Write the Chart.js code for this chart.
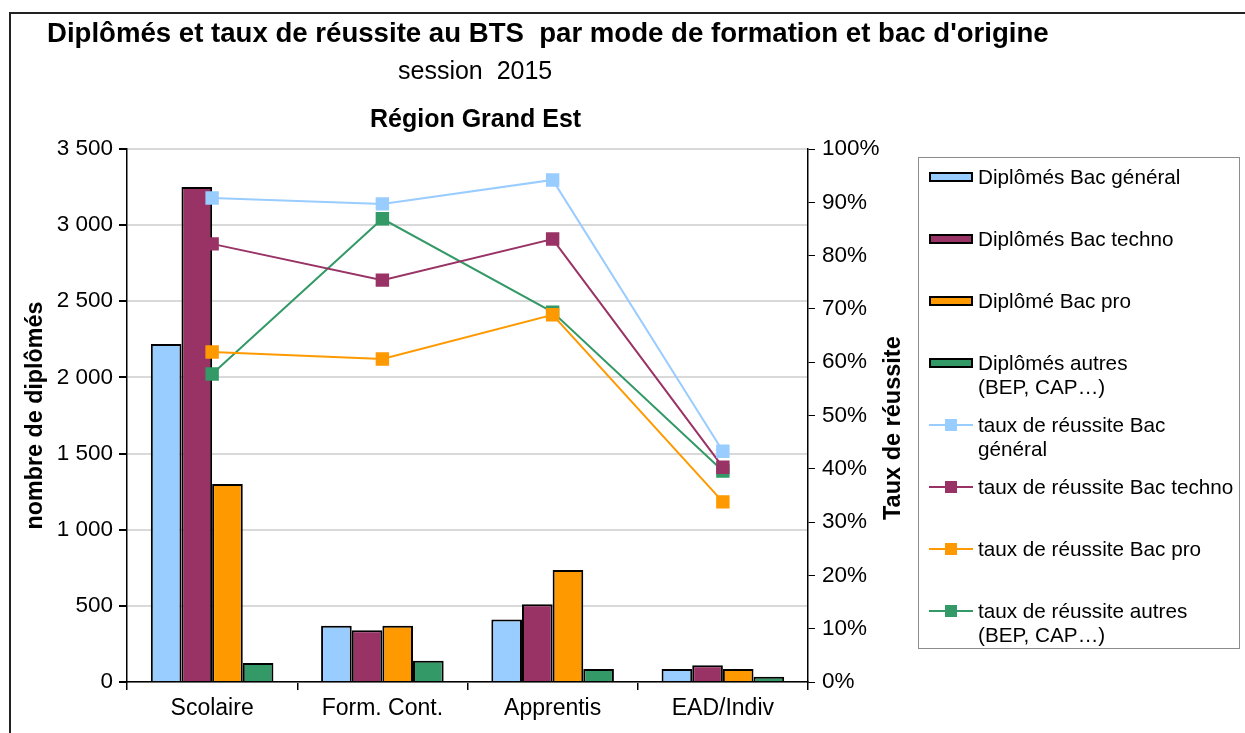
<!DOCTYPE html>
<html lang="fr">
<head>
<meta charset="utf-8">
<title>Diplômés et taux de réussite au BTS</title>
<script src="https://cdn.jsdelivr.net/npm/chart.js@4"></script>
<style>
  html, body { margin: 0; padding: 0; background: #fff; }
  body { width: 1245px; height: 733px; position: relative; overflow: hidden; font-family: "Liberation Sans", Arial, sans-serif; color: #000; }
  #frame { position: absolute; left: 9px; top: 12px; width: 1300px; height: 800px; border-left: 2px solid #222; border-top: 2px solid #222; }
  #wrap { position: absolute; left: 0; top: 0; width: 1245px; height: 733px; }
  .t { position: absolute; white-space: nowrap; transform-origin: left top; }
  #title { left: 47px; top: 17px; font-size: 27.6px; font-weight: bold; }
  #sub { left: 398px; top: 56px; font-size: 25px; }
  #region { left: 370px; top: 104px; font-size: 25px; font-weight: bold; }
  #ytitle2 { left: 879px; top: 520px; font-size: 23.5px; font-weight: bold; transform: rotate(-90deg); transform-origin: left top; }
  #legend { position: absolute; left: 918px; top: 157px; width: 322px; height: 492px; border: 1px solid #8c8c8c; box-sizing: border-box; padding-top: 7px; }
  .item { position: relative; height: 62px; font-size: 20.7px; line-height: 24px; white-space: pre-line; padding-left: 59px; }
  .sw { position: absolute; left: 10px; top: 7px; width: 44px; height: 10px; box-sizing: border-box; border: 2px solid #000; }
  .ln { position: absolute; left: 10px; top: 11px; width: 44px; height: 2px; }
  .mk { position: absolute; left: 26px; top: 6px; width: 12px; height: 12px; }
</style>
</head>
<body>
<div id="frame"></div>
<div id="wrap"><canvas id="myChart" width="1245" height="733"></canvas></div>
<div class="t" id="title">Diplômés et taux de réussite au BTS&nbsp; par mode de formation et bac d'origine</div>
<div class="t" id="sub">session&nbsp; 2015</div>
<div class="t" id="region">Région Grand Est</div>
<div class="t" id="ytitle2">Taux de réussite</div>
<div id="legend"></div>
<script>
const categories = ['Scolaire', 'Form. Cont.', 'Apprentis', 'EAD/Indiv'];

// nombre de diplômés
const diplBacGeneral = [2220, 370, 410, 85];
const diplBacTechno = [3250, 340, 510, 110];
const diplBacPro = [1300, 370, 735, 85];
const diplAutres = [125, 140, 85, 35];

// taux de réussite (%)
const tauxBacGeneral = [90.8, 89.7, 94.2, 43.3];
const tauxBacTechno = [82.2, 75.4, 83.1, 40.3];
const tauxBacPro = [61.9, 60.6, 68.9, 33.8];
const tauxAutres = [57.8, 86.9, 69.4, 39.6];

const leftTicks = [0, 500, 1000, 1500, 2000, 2500, 3000, 3500];
const rightTicks = [0, 10, 20, 30, 40, 50, 60, 70, 80, 90, 100];

const blue = '#99ccff', purple = '#993366', orange = '#ff9900', green = '#339966';

function fmtThousands(v) {
    return String(v).replace(/\B(?=(\d{3})+(?!\d))/g, ' ');
}

function barSet(label, data, color) {
    return {
        type: 'bar', label: label, data: data, yAxisID: 'y',
        backgroundColor: color, borderColor: '#000', borderWidth: 2,
        borderSkipped: 'bottom', order: 2,
        categoryPercentage: 0.72, barPercentage: 1.0
    };
}

function lineSet(label, data, color) {
    return {
        type: 'line', label: label, data: data, yAxisID: 'y2',
        borderColor: color, backgroundColor: color, borderWidth: 2,
        pointStyle: 'rect', pointRadius: 9.5, pointHoverRadius: 9.5,
        pointBorderWidth: 0, tension: 0, order: 1
    };
}

window.onload = function () {
    const ctx = document.getElementById('myChart').getContext('2d');
    Chart.defaults.font.family = '"Liberation Sans", Arial, sans-serif';
    Chart.defaults.color = '#000';

    const chart = new Chart(ctx, {
        data: {
            labels: categories,
            datasets: [
                barSet('Diplômés Bac général', diplBacGeneral, blue),
                barSet('Diplômés Bac techno', diplBacTechno, purple),
                barSet('Diplômé Bac pro', diplBacPro, orange),
                barSet('Diplômés autres\n(BEP, CAP…)', diplAutres, green),
                lineSet('taux de réussite Bac\ngénéral', tauxBacGeneral, blue),
                lineSet('taux de réussite Bac techno', tauxBacTechno, purple),
                lineSet('taux de réussite Bac pro', tauxBacPro, orange),
                lineSet('taux de réussite autres\n(BEP, CAP…)', tauxAutres, green)
            ]
        },
        options: {
            responsive: false,
            animation: false,
            layout: { padding: { left: 18, top: 149, right: 337, bottom: 0 } },
            plugins: {
                legend: { display: false },
                tooltip: { enabled: false }
            },
            scales: {
                x: {
                    grid: { offset: true, drawOnChartArea: false, tickLength: 8, tickColor: '#000', lineWidth: 1.5 },
                    border: { color: '#000', width: 1.5 },
                    ticks: { font: { size: 23 }, padding: 5 },
                    afterFit: function (s) { s.height = 51; }
                },
                y: {
                    position: 'left',
                    min: 0, max: 3500,
                    afterBuildTicks: function (s) { s.ticks = leftTicks.map(v => ({ value: v })); },
                    grid: { color: '#d9d9d9', lineWidth: 2, tickColor: '#000', tickLength: 8 },
                    border: { color: '#000', width: 1.5 },
                    ticks: { font: { size: 22.5 }, padding: 6, callback: v => fmtThousands(v) },
                    title: { display: true, text: 'nombre de diplômés', font: { size: 23.3, weight: 'bold' }, padding: { top: 4, bottom: 2 } },
                    afterFit: function (s) { s.width = 109; }
                },
                y2: {
                    position: 'right',
                    min: 0, max: 100,
                    afterBuildTicks: function (s) { s.ticks = rightTicks.map(v => ({ value: v })); },
                    grid: { drawOnChartArea: false, tickColor: '#000', tickLength: 7 },
                    border: { color: '#000', width: 1.5 },
                    ticks: { font: { size: 22.5 }, padding: 7, callback: v => v + '%' },
                    afterFit: function (s) { s.width = 100; }
                }
            }
        }
    });

    // legend built from the chart datasets
    const legend = document.getElementById('legend');
    chart.data.datasets.forEach(ds => {
        const item = document.createElement('div');
        item.className = 'item';
        if (ds.type === 'bar') {
            const sw = document.createElement('span');
            sw.className = 'sw';
            sw.style.background = ds.backgroundColor;
            item.appendChild(sw);
        } else {
            const ln = document.createElement('span');
            ln.className = 'ln';
            ln.style.background = ds.borderColor;
            const mk = document.createElement('span');
            mk.className = 'mk';
            mk.style.background = ds.backgroundColor;
            item.appendChild(ln);
            item.appendChild(mk);
        }
        item.appendChild(document.createTextNode(ds.label));
        legend.appendChild(item);
    });
};
</script>
</body>
</html>
